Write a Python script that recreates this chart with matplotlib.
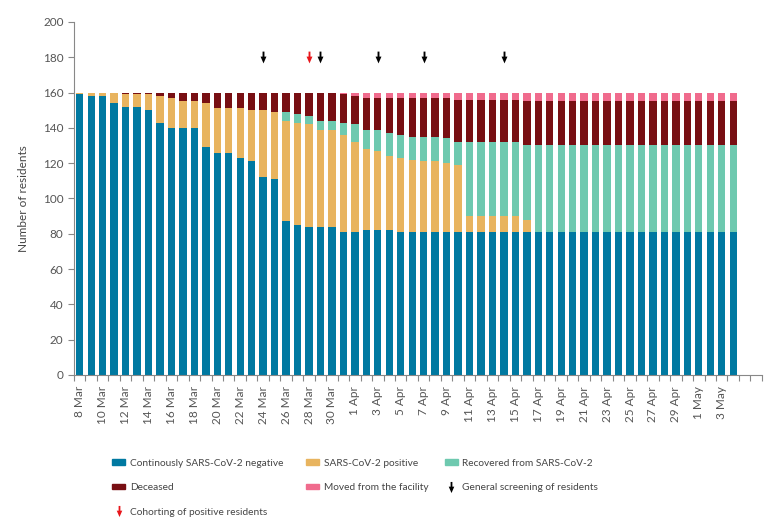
import numpy as np
import pandas as pd
import matplotlib
matplotlib.use('Agg')
import matplotlib.pyplot as plt
from matplotlib.patches import Patch
from matplotlib.lines import Line2D
from matplotlib.path import Path

plt.rcParams['font.family'] = ['Lato', 'DejaVu Sans']

# daily counts of residents, 8 Mar - 4 May
dates = pd.date_range('2020-03-08', '2020-05-04')
negative = [159, 158, 158, 154, 152, 152, 150, 143, 140, 140, 140, 129, 126, 126, 123, 121,
            112, 111, 87, 85, 84, 84, 84, 81, 81, 82, 82, 82, 81, 81, 81, 81, 81, 81] + [81] * 24
positive = [1, 2, 2, 6, 7, 7, 9, 15, 17, 15, 15, 25, 25, 25, 28, 29, 38, 38, 57, 58, 58, 55,
            55, 55, 51, 46, 45, 42, 42, 41, 40, 40, 39, 38, 9, 9, 9, 9, 9, 7] + [0] * 18
recovered = [0] * 18 + [5, 5, 5, 5, 5, 7, 10, 11, 12, 13, 13, 13, 14, 14, 14, 13,
                        42, 42, 42, 42, 42, 42] + [49] * 18
deceased = [0, 0, 0, 0, 1, 1, 1, 2, 3, 5, 5, 6, 9, 9, 9, 10, 10, 11, 11, 12, 13, 16, 16, 16,
            16, 18, 18, 20, 21, 22, 22, 22, 23, 24, 24, 24, 24, 24, 24] + [25] * 19
moved = [0] * 23 + [1, 2, 3, 3, 3, 3, 3, 3, 3, 3, 4, 4, 4, 4, 4, 4] + [5] * 19

# event days (index into dates)
screening_days = [16, 21, 26, 30, 37]
cohorting_days = [20]

series = [negative, positive, recovered, deceased, moved]
names = ['Continously SARS-CoV-2 negative', 'SARS-CoV-2 positive', 'Recovered from SARS-CoV-2',
         'Deceased', 'Moved from the facility']
colors = ['#0079a1', '#e8b45f', '#6ec9af', '#780f13', '#f06b8d']

x = np.arange(len(dates))
labels = [f"{d.day} {d.strftime('%b')}" for d in dates]

fig = plt.figure(figsize=(7.83, 5.31), dpi=100)
ax = fig.add_axes([0.0945, 0.294, 0.8785, 0.6646])

bottom = np.zeros(len(x))
for vals, c in zip(series, colors):
    vals = np.array(vals)
    ax.bar(x, vals, bottom=bottom, width=0.64, color=c, linewidth=0)
    bottom += vals

# down arrow marker
arrow = Path([(-0.16, 1.0), (0.16, 1.0), (0.16, 0.15), (0.5, 0.15), (0.0, -1.0),
              (-0.5, 0.15), (-0.16, 0.15), (-0.16, 1.0)],
             [Path.MOVETO] + [Path.LINETO] * 6 + [Path.CLOSEPOLY])
ax.plot(screening_days, [180] * len(screening_days), ls='none', marker=arrow,
        ms=8.5, color='black', mew=0)
ax.plot(cohorting_days, [180] * len(cohorting_days), ls='none', marker=arrow,
        ms=8.5, color='#e8161b', mew=0)

ax.set_xlim(-0.5, 59.5)
ax.set_ylim(0, 200)
ax.set_yticks(range(0, 201, 20))
ax.set_xticks(x[::2])
ax.set_xticklabels(labels[::2], rotation=90)
ax.set_xticks(np.arange(-0.5, 60, 1), minor=True)
ax.tick_params(axis='x', which='major', length=0, pad=8, labelsize=8.5, labelcolor='#555555')
ax.tick_params(axis='x', which='minor', length=4, color='#888888', width=0.8)
ax.tick_params(axis='y', length=4, color='#888888', width=0.8, labelsize=8.5,
               labelcolor='#555555')
for s in ['top', 'right']:
    ax.spines[s].set_visible(False)
for s in ['left', 'bottom']:
    ax.spines[s].set_color('#888888')
    ax.spines[s].set_linewidth(0.8)
ax.set_ylabel('Number of residents', fontsize=8.5, color='#444444', labelpad=10)

# legend in three columns
handles = [Patch(color=c) for c in colors]
h_screen = Line2D([], [], ls='none', marker=arrow, ms=8, color='black', mew=0)
h_cohort = Line2D([], [], ls='none', marker=arrow, ms=8, color='#e8161b', mew=0)
cols = [
    ([handles[0], handles[3], h_cohort], [names[0], names[3], 'Cohorting of positive residents'], 0.143),
    ([handles[1], handles[4]], [names[1], names[4]], 0.391),
    ([handles[2], h_screen], [names[2], 'General screening of residents'], 0.568),
]
for hs, ls, xpos in cols:
    fig.legend(hs, ls, loc='upper left', bbox_to_anchor=(xpos, 0.136), frameon=False,
               fontsize=7.3, labelcolor='#444444', handlelength=1.3, handleheight=0.5,
               handletextpad=0.45, labelspacing=1.52, borderaxespad=0, borderpad=0)

fig.savefig('out.png', dpi=100)
